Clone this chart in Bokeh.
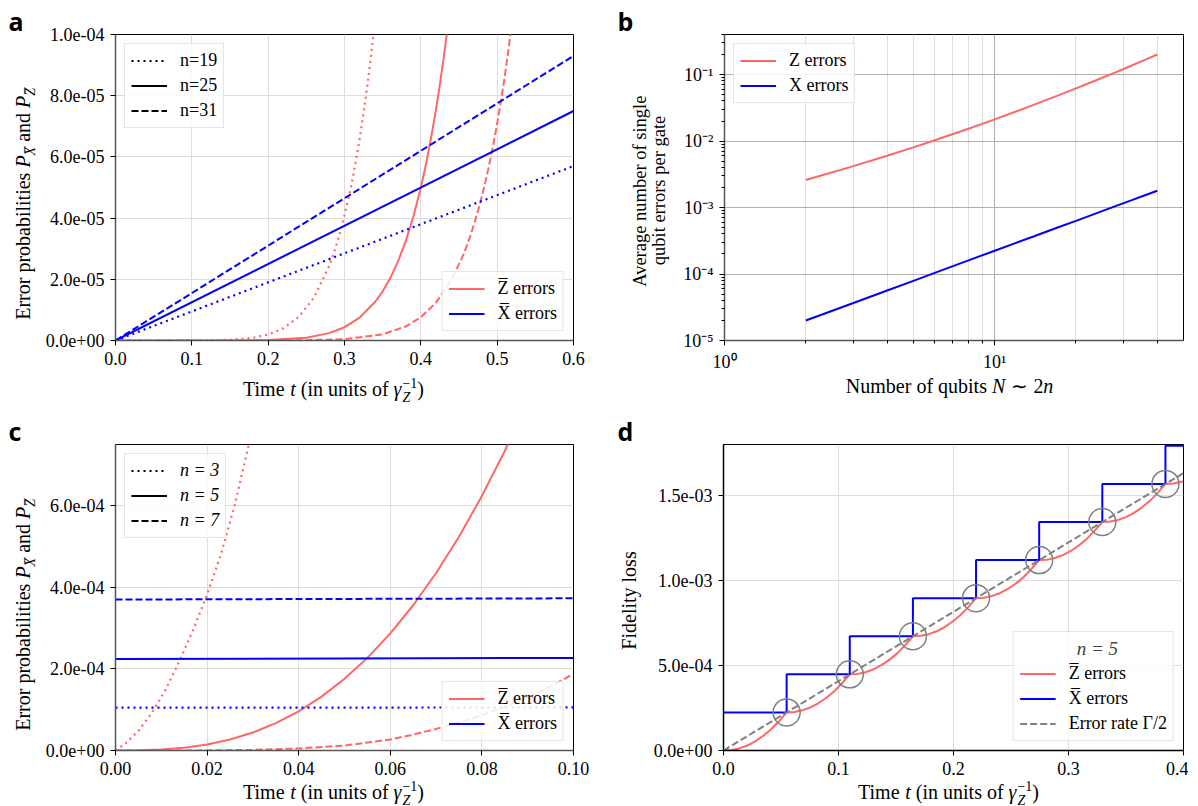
import math
import numpy as np
from bokeh.plotting import figure
from bokeh.layouts import column, row
from bokeh.models import (FixedTicker, CustomJSTickFormatter, Label, Legend,
                          LegendItem, Range1d)
from bokeh.embed import file_html
from bokeh.resources import INLINE

RED = "#ff6666"
BLUE = "#0000ff"
GRAY = "#808080"
SERIF = "Liberation Serif"

# ---------------- Panel a data ----------------
a_t_line = [0.0, 0.6]
a_x_n19 = [0.0, 5.7e-5]
a_x_n25 = [0.0, 7.5e-5]
a_x_n31 = [0.0, 9.3e-5]
a_z19_t = [0.0, 0.10, 0.15, 0.18, 0.20, 0.22, 0.24, 0.26, 0.28, 0.285, 0.29, 0.295, 0.30,
           0.305, 0.31, 0.315, 0.32, 0.325, 0.33, 0.335, 0.34]
a_z19 = [0.0, 1e-8, 2.3e-7, 8.8e-7, 1.95e-6, 4.0e-6, 7.7e-6, 1.4e-5, 2.44e-5, 2.78e-5,
         3.17e-5, 3.60e-5, 4.1e-5, 4.63e-5, 5.2e-5, 5.90e-5, 6.6e-5, 7.45e-5, 8.35e-5,
         9.35e-5, 1.045e-4]
a_z25_t = [0.0, 0.15, 0.20, 0.25, 0.28, 0.30, 0.32, 0.34, 0.35, 0.36, 0.37, 0.38, 0.39,
           0.40, 0.405, 0.41, 0.415, 0.42, 0.425, 0.43, 0.435, 0.44]
a_z25 = [0.0, 1.2e-8, 1.38e-7, 9.2e-7, 2.41e-6, 4.34e-6, 7.5e-6, 1.257e-5, 1.607e-5,
         2.04e-5, 2.58e-5, 3.23e-5, 4.03e-5, 5.0e-5, 5.56e-5, 6.17e-5, 6.84e-5, 7.57e-5,
         8.37e-5, 9.25e-5, 1.02e-4, 1.124e-4]
a_z31_t = [0.0, 0.20, 0.25, 0.30, 0.35, 0.38, 0.40, 0.42, 0.44, 0.455, 0.46, 0.465, 0.47,
           0.475, 0.48, 0.485, 0.49, 0.495, 0.50, 0.505, 0.51, 0.515, 0.52]
a_z31 = [0.0, 7e-9, 6.9e-8, 4.3e-7, 2.0e-6, 4.56e-6, 7.6e-6, 1.24e-5, 1.98e-5, 2.76e-5,
         3.08e-5, 3.43e-5, 3.82e-5, 4.25e-5, 4.71e-5, 5.23e-5, 5.79e-5, 6.41e-5, 7.09e-5,
         7.83e-5, 8.64e-5, 9.53e-5, 1.049e-4]
a_xticks = [0.0, 0.1, 0.2, 0.3, 0.4, 0.5, 0.6]
a_xlabels = ["0.0", "0.1", "0.2", "0.3", "0.4", "0.5", "0.6"]
a_yticks = [0.0, 2e-5, 4e-5, 6e-5, 8e-5, 1e-4]
a_ylabels = ["0.0e+00", "2.0e-05", "4.0e-05", "6.0e-05", "8.0e-05", "1.0e-04"]
a_n_labels = ["n=19", "n=25", "n=31"]

# ---------------- Panel b data ----------------
b_n = [2, 3, 4, 5, 6, 8, 10, 12, 14, 17, 20, 24, 28, 32, 36, 40]
b_z = [2.6e-3, 4.19e-3, 6.0e-3, 8.02e-3, 1.026e-2, 1.533e-2, 2.12e-2, 2.78e-2, 3.52e-2,
       4.77e-2, 6.19e-2, 8.34e-2, 0.108, 0.1356, 0.1663, 0.2]
b_x = [2.0e-5, 3.67e-5, 5.66e-5, 7.9e-5, 1.04e-4, 1.6e-4, 2.24e-4, 2.94e-4, 3.7e-4,
       4.96e-4, 6.3e-4, 8.3e-4, 1.05e-3, 1.28e-3, 1.53e-3, 1.79e-3]
b_xticks = [1.0, 10.0]
b_xlabels = ["10\u2070", "10\u00b9"]
b_xminor = [2, 3, 4, 5, 6, 7, 8, 9, 20, 30, 40]
b_yticks = [1e-5, 1e-4, 1e-3, 1e-2, 1e-1]
b_ylabels = ["10\u207b\u2075", "10\u207b\u2074", "10\u207b\u00b3", "10\u207b\u00b2", "10\u207b\u00b9"]
b_yminor = [m * d for d in (1e-5, 1e-4, 1e-3, 1e-2, 1e-1) for m in range(2, 10)]

# ---------------- Panel c data ----------------
c_t_line = [0.0, 0.1]
c_x3 = [1.05e-4, 1.055e-4]
c_x5 = [2.24e-4, 2.27e-4]
c_x7 = [3.70e-4, 3.73e-4]
c_z3_t = [0.0, 0.002, 0.005, 0.008, 0.011, 0.014, 0.017, 0.020, 0.023, 0.026, 0.029, 0.030]
c_z3 = [0.0, 1.52e-5, 4.81e-5, 9.32e-5, 1.505e-4, 2.2e-4, 2.97e-4, 3.82e-4, 4.8e-4,
        6.0e-4, 7.45e-4, 7.95e-4]
c_z5_t = [0.0, 0.005, 0.01, 0.015, 0.02, 0.025, 0.03, 0.035, 0.04, 0.045, 0.05, 0.055,
          0.06, 0.065, 0.07, 0.075, 0.08, 0.085, 0.09]
c_z5 = [0.0, 3.5e-7, 2.3e-6, 6.8e-6, 1.48e-5, 2.7e-5, 4.4e-5, 6.7e-5, 9.6e-5, 1.32e-4,
        1.76e-4, 2.27e-4, 2.87e-4, 3.56e-4, 4.35e-4, 5.24e-4, 6.24e-4, 7.34e-4, 8.6e-4]
c_z7_t = [0.0, 0.01, 0.02, 0.03, 0.04, 0.05, 0.06, 0.065, 0.07, 0.075, 0.08, 0.085, 0.09,
          0.095, 0.10]
c_z7 = [0.0, 2e-8, 3e-7, 1.5e-6, 5e-6, 1.2e-5, 2.7e-5, 3.9e-5, 5.3e-5, 6.9e-5, 8.6e-5,
        1.07e-4, 1.3e-4, 1.57e-4, 1.88e-4]
c_xticks = [0.0, 0.02, 0.04, 0.06, 0.08, 0.10]
c_xlabels = ["0.00", "0.02", "0.04", "0.06", "0.08", "0.10"]
c_yticks = [0.0, 2e-4, 4e-4, 6e-4]
c_ylabels = ["0.0e+00", "2.0e-04", "4.0e-04", "6.0e-04"]
c_n_labels = ["n = 3", "n = 5", "n = 7"]

# ---------------- Panel d data ----------------
d_step_t = [0.0, 0.0549, 0.1098, 0.1647, 0.2196, 0.2745, 0.3294, 0.3843, 0.4]
d_x_err = [2.24e-4, 4.48e-4, 6.72e-4, 8.96e-4, 1.12e-3, 1.344e-3, 1.568e-3, 1.792e-3, 1.792e-3]
d_rate_t = [0.0, 0.4]
d_rate = [0.0, 1.632e-3]
d_circ_t = [0.0549, 0.1098, 0.1647, 0.2196, 0.2745, 0.3294, 0.3843]
d_circ_y = [2.24e-4, 4.48e-4, 6.72e-4, 8.96e-4, 1.12e-3, 1.344e-3, 1.568e-3]
d_z_t = [0.0, 0.0069, 0.0137, 0.0206, 0.0275, 0.0343, 0.0412, 0.0480,
         0.0549, 0.0618, 0.0686, 0.0755, 0.0824, 0.0892, 0.0961, 0.1029,
         0.1098, 0.1167, 0.1235, 0.1304, 0.1373, 0.1441, 0.1510, 0.1578,
         0.1647, 0.1716, 0.1784, 0.1853, 0.1922, 0.1990, 0.2059, 0.2127,
         0.2196, 0.2265, 0.2333, 0.2402, 0.2471, 0.2539, 0.2608, 0.2676,
         0.2745, 0.2814, 0.2882, 0.2951, 0.3020, 0.3088, 0.3157, 0.3225,
         0.3294, 0.3363, 0.3431, 0.3500, 0.3569, 0.3637, 0.3706, 0.3774,
         0.3843, 0.3912, 0.3980, 0.4000]
d_z_err = [0.0, 0.027e-4, 0.123e-4, 0.291e-4, 0.538e-4, 0.851e-4, 1.232e-4, 1.702e-4,
           2.24e-4, 2.267e-4, 2.363e-4, 2.531e-4, 2.778e-4, 3.091e-4, 3.472e-4, 3.942e-4,
           4.48e-4, 4.507e-4, 4.603e-4, 4.771e-4, 5.018e-4, 5.331e-4, 5.712e-4, 6.182e-4,
           6.72e-4, 6.747e-4, 6.843e-4, 7.011e-4, 7.258e-4, 7.571e-4, 7.952e-4, 8.422e-4,
           8.96e-4, 8.987e-4, 9.083e-4, 9.251e-4, 9.498e-4, 9.811e-4, 10.192e-4, 10.662e-4,
           11.20e-4, 11.227e-4, 11.323e-4, 11.491e-4, 11.738e-4, 12.051e-4, 12.432e-4, 12.902e-4,
           13.44e-4, 13.467e-4, 13.563e-4, 13.731e-4, 13.978e-4, 14.291e-4, 14.672e-4, 15.142e-4,
           15.68e-4, 15.707e-4, 15.803e-4, 15.84e-4]
d_xticks = [0.0, 0.1, 0.2, 0.3, 0.4]
d_xlabels = ["0.0", "0.1", "0.2", "0.3", "0.4"]
d_yticks = [0.0, 5e-4, 1e-3, 1.5e-3]
d_ylabels = ["0.0e+00", "5.0e-04", "1.0e-03", "1.5e-03"]

# ---------------- helpers ----------------
JS_FMT = """
let best = 0, bd = Infinity;
for (let i = 0; i < tv.length; i++) {
  const d = Math.abs(tv[i] - tick);
  if (d < bd) { bd = d; best = i; }
}
return lv[best];
"""

TW = {' ': 250, '(': 333, ')': 333, '-': 333, '.': 250, '/': 278, 'A': 722, 'E': 611,
      'F': 556, 'P': 611, 'T': 611, 'N': 722, 'X': 611, 'Z': 611, 'a': 444, 'b': 500,
      'd': 500, 'e': 444, 'f': 333, 'g': 500, 'i': 278, 'l': 278, 'm': 778, 'n': 500,
      'o': 500, 'p': 500, 'q': 500, 'r': 333, 's': 389, 't': 278, 'u': 500, 'v': 500,
      'y': 500, '\u223c': 838, '\u03b3': 440, '\u2212': 564}
BASE_FIX = 0.32   # rendered baseline sits this many ems below the anchor


def tw(s, size):
    return sum(TW.get(c, 500) for c in s if not ('\u0300' <= c <= '\u036f')) * size / 1000.0


def no_align(p):
    if "frame_align" in p.properties():
        p.frame_align = False
    return p


def rich(p, pieces, x0, y0, angle=0.0, size=20):
    """Pieces of text laid out along a baseline in a helper figure (pixel data units)."""
    total = sum(tw(t, size * rs) for t, rs, st, sh, adv in pieces if adv)
    a = -total / 2.0
    ca, sa = math.cos(angle), math.sin(angle)
    for t, rs, st, sh, adv in pieces:
        fs = size * rs
        lead = len(t) - len(t.lstrip(' '))
        aa = a + tw(' ' * lead, fs)
        u = sh * size + BASE_FIX * fs
        px = x0 + aa * ca - u * sa
        py = y0 + aa * sa + u * ca
        p.add_layout(Label(x=px, y=py, text=t.strip(), angle=angle, text_font=SERIF,
                           text_font_size=f"{fs:.1f}px", text_font_style=st,
                           text_align="left", text_baseline="alphabetic",
                           text_color="black"))
        if adv:
            a += tw(t, fs)


def helper(w, h, top_margin=0):
    p = figure(width=w, height=h, x_range=Range1d(0, w), y_range=Range1d(0, h),
               min_border=0, x_axis_location=None, y_axis_location=None,
               output_backend="svg", toolbar_location=None, tools="")
    p.grid.grid_line_color = None
    p.outline_line_color = None
    p.background_fill_alpha = 0
    p.border_fill_alpha = 0
    if top_margin:
        p.margin = (top_margin, 0, 0, 0)
    return no_align(p)


def make_fig(xr, yr, fw, fh, bl, br, bt, bb, xtype="linear", ytype="linear"):
    p = figure(x_range=Range1d(*xr), y_range=Range1d(*yr), frame_width=fw, frame_height=fh,
               min_border_left=bl, min_border_right=br, min_border_top=bt,
               min_border_bottom=bb, x_axis_type=xtype, y_axis_type=ytype,
               output_backend="svg", toolbar_location=None, tools="")
    p.outline_line_color = "black"
    p.outline_line_width = 1
    p.background_fill_color = "white"
    p.border_fill_color = "white"
    return no_align(p)


def style_axes(p, xt, xl, yt, yl, axis_col="#555555", xminor=None, yminor=None,
               gcol="#dddddd"):
    for ax, grid, t, l, mn in ((p.xaxis[0], p.xgrid[0], xt, xl, xminor),
                               (p.yaxis[0], p.ygrid[0], yt, yl, yminor)):
        tk = FixedTicker(ticks=t, minor_ticks=mn or [])
        ax.ticker = tk
        grid.ticker = tk
        ax.formatter = CustomJSTickFormatter(args=dict(tv=t, lv=l), code=JS_FMT)
        ax.axis_label = None
        ax.axis_label_standoff = 0
        ax.major_label_text_font = SERIF
        ax.major_label_text_font_size = "18px"
        ax.major_label_text_color = "black"
        ax.major_tick_out = 5
        ax.major_tick_in = 0
        ax.minor_tick_in = 0
        ax.minor_tick_out = 3 if mn else 0
        ax.major_label_standoff = 6
        ax.axis_line_color = axis_col
        ax.axis_line_width = 1.5
        ax.major_tick_line_color = "black"
        ax.minor_tick_line_color = "black"
        grid.grid_line_color = gcol
        grid.grid_line_width = 1


def make_legend(p, items, loc, title=None):
    lg = Legend(items=items, location=loc, margin=9, padding=6, spacing=4,
                glyph_width=36, glyph_height=19, label_height=19, label_standoff=13,
                label_text_font=SERIF, label_text_font_size="18px",
                label_text_color="black",
                border_line_color="#cccccc", border_line_width=1,
                background_fill_color="white", background_fill_alpha=0.85)
    if title is not None:
        lg.title = title
        lg.title_text_font = SERIF
        lg.title_text_font_size = "19px"
        lg.title_text_font_style = "italic"
        lg.title_standoff = 3
    p.add_layout(lg, "center")
    return lg


def letter(p, txt, x, y):
    p.add_layout(Label(x=x, y=y + BASE_FIX * 25, text=txt, text_font="Open Sans",
                       text_font_style="bold", text_font_size="25px", text_align="left",
                       text_baseline="alphabetic", text_color="black"))


NAN2 = np.array([np.nan, np.nan])
OVL = "\u0305"
YLAB = [("Error probabilities ", 1, "normal", 0, True), ("P", 1, "italic", 0, True),
        ("X" + OVL, 0.7, "italic", -0.25, True), (" and ", 1, "normal", 0, True),
        ("P", 1, "italic", 0, True), ("Z" + OVL, 0.7, "italic", -0.25, True)]
TLAB = [("Time ", 1, "normal", 0, True), ("t", 1, "italic", 0, True),
        (" (in units of ", 1, "normal", 0, True), ("\u03b3", 1, "italic", 0, True),
        ("Z", 0.7, "italic", -0.3, False), ("\u22121", 0.7, "normal", 0.42, True),
        (")", 1, "normal", 0, True)]

DOT, SOLID, DASH = "2 4", "solid", "7 3"
BB = 41  # bottom border of every panel (larger than the x axis needs)

# ---------------- Panel a ----------------
pa = make_fig((0, 0.6), (0, 1e-4), 458, 306, 77, 25, 34, BB)
style_axes(pa, a_xticks, a_xlabels, a_yticks, a_ylabels)
pa.line(a_z19_t, a_z19, line_color=RED, line_width=2.2, line_dash=DOT)
ra_z = pa.line(a_z25_t, a_z25, line_color=RED, line_width=2)
pa.line(a_z31_t, a_z31, line_color=RED, line_width=2, line_dash=DASH)
pa.line(a_t_line, a_x_n19, line_color=BLUE, line_width=2.2, line_dash=DOT)
ra_x = pa.line(a_t_line, a_x_n25, line_color=BLUE, line_width=2)
pa.line(a_t_line, a_x_n31, line_color=BLUE, line_width=2, line_dash=DASH)
ka = [pa.line(NAN2, NAN2, line_color="black", line_width=2, line_dash=d) for d in (DOT, SOLID, DASH)]
make_legend(pa, [LegendItem(label=l, renderers=[r]) for l, r in zip(a_n_labels, ka)], "top_left")
make_legend(pa, [LegendItem(label="Z" + OVL + " errors", renderers=[ra_z]),
                 LegendItem(label="X" + OVL + " errors", renderers=[ra_x])], "bottom_right")
ya = helper(38, 408)
rich(ya, YLAB, 29, 205, angle=math.pi / 2)
letter(ya, "a", 8, 380)
xa = helper(560, 38, top_margin=-11)
rich(xa, TLAB, 295, 13)

# ---------------- Panel b ----------------
pb = make_fig((1, 50), (1e-5, 0.4), 459, 306, 52, 5, 34, BB, xtype="log", ytype="log")
style_axes(pb, b_xticks, b_xlabels, b_yticks, b_ylabels, xminor=b_xminor, yminor=b_yminor,
           gcol="#b0b0b0")
pb.xgrid[0].minor_grid_line_color = "#dedede"
rb_z = pb.line(b_n, b_z, line_color=RED, line_width=2)
rb_x = pb.line(b_n, b_x, line_color=BLUE, line_width=2)
make_legend(pb, [LegendItem(label="Z errors", renderers=[rb_z]),
                 LegendItem(label="X errors", renderers=[rb_x])], "top_left")
yb = helper(74, 408)
rich(yb, [("Average number of single", 1, "normal", 0, True)], 47, 218, angle=math.pi / 2,
     size=18.5)
rich(yb, [("qubit errors per gate", 1, "normal", 0, True)], 66, 218, angle=math.pi / 2,
     size=18.5)
letter(yb, "b", 19, 380)
xb = helper(516, 38, top_margin=-11)
rich(xb, [("Number of qubits ", 1, "normal", 0, True), ("N", 1, "italic", 0, True),
          (" \u223c 2", 1, "normal", 0, True), ("n", 1, "italic", 0, True)], 277, 16)

# ---------------- Panel c ----------------
pc = make_fig((0, 0.1), (0, 7.5e-4), 458, 306, 77, 25, 36, BB)
style_axes(pc, c_xticks, c_xlabels, c_yticks, c_ylabels)
pc.line(c_z3_t, c_z3, line_color=RED, line_width=2.2, line_dash=DOT)
rc_z = pc.line(c_z5_t, c_z5, line_color=RED, line_width=2)
pc.line(c_z7_t, c_z7, line_color=RED, line_width=2, line_dash=DASH)
pc.line(c_t_line, c_x3, line_color=BLUE, line_width=2.2, line_dash=DOT)
rc_x = pc.line(c_t_line, c_x5, line_color=BLUE, line_width=2)
pc.line(c_t_line, c_x7, line_color=BLUE, line_width=2, line_dash=DASH)
kc = [pc.line(NAN2, NAN2, line_color="black", line_width=2, line_dash=d) for d in (DOT, SOLID, DASH)]
lgc = make_legend(pc, [LegendItem(label=l, renderers=[r]) for l, r in zip(c_n_labels, kc)], "top_left")
lgc.label_text_font_style = "italic"
make_legend(pc, [LegendItem(label="Z" + OVL + " errors", renderers=[rc_z]),
                 LegendItem(label="X" + OVL + " errors", renderers=[rc_x])], "bottom_right")
yc = helper(38, 398)
rich(yc, YLAB, 29, 192, angle=math.pi / 2)
letter(yc, "c", 8, 368)
xc = helper(560, 30, top_margin=-15)
rich(xc, TLAB, 295, 8)

# ---------------- Panel d ----------------
pd_ = make_fig((0, 0.4), (0, 1.8e-3), 460, 306, 78, 5, 36, BB)
style_axes(pd_, d_xticks, d_xlabels, d_yticks, d_ylabels, axis_col="black")
rd_z = pd_.line(d_z_t, d_z_err, line_color=RED, line_width=2)
rd_x = pd_.step(d_step_t, d_x_err, mode="after", line_color=BLUE, line_width=2)
rd_r = pd_.line(d_rate_t, d_rate, line_color=GRAY, line_width=2, line_dash=DASH)
pd_.scatter(d_circ_t, d_circ_y, size=27, fill_color=None, line_color=GRAY, line_width=1.5)
make_legend(pd_, [LegendItem(label="Z" + OVL + " errors", renderers=[rd_z]),
                  LegendItem(label="X" + OVL + " errors", renderers=[rd_x]),
                  LegendItem(label="Error rate \u0393/2", renderers=[rd_r])],
            "bottom_right", title="\u00a0" * 12 + "n = 5")
yd = helper(47, 398)
rich(yd, [("Fidelity loss", 1, "normal", 0, True)], 37, 206, angle=math.pi / 2)
letter(yd, "d", 19, 368)
xd = helper(543, 30, top_margin=-15)
rich(xd, TLAB, 303, 8)

layout = column(row(ya, column(pa, xa), yb, column(pb, xb)),
                row(yc, column(pc, xc), yd, column(pd_, xd)))
open("out.html", "w").write(file_html(layout, INLINE))
